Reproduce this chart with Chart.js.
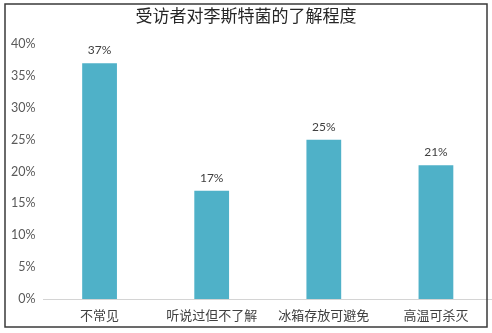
<!DOCTYPE html>
<html>
<head>
<meta charset="utf-8">
<script src="https://cdn.jsdelivr.net/npm/chart.js@4/dist/chart.umd.min.js"></script>
<style>
    html, body { margin: 0; padding: 0; background: #fff; }
    #wrap { width: 492px; height: 333px; position: relative; }
</style>
</head>
<body>
<div id="wrap"><canvas id="chart" width="492" height="333"></canvas></div>
<script>
const chartTitle = "受访者对李斯特菌的了解程度";
const categories = ["不常见", "听说过但不了解", "冰箱存放可避免", "高温可杀灭"];
const percentValues = [37, 17, 25, 21];
const yTicks = [0, 5, 10, 15, 20, 25, 30, 35, 40];

const barColor = "#4fb1c8";

// title, value labels and the outer frame
const decorations = {
    id: "decorations",
    afterDatasetsDraw(chart) {
        const ctx = chart.ctx;
        ctx.save();
        ctx.fillStyle = "#404040";
        ctx.font = "12px Lato";
        ctx.textAlign = "center";
        ctx.textBaseline = "middle";
        chart.getDatasetMeta(0).data.forEach((bar, i) => {
            ctx.fillText(percentValues[i] + "%", bar.x, bar.y - 13);
        });

        ctx.fillStyle = "#262626";
        ctx.font = "17px 'Noto Sans CJK SC'";
        ctx.fillText(chartTitle, 246, 16);

        ctx.strokeStyle = "#3a3a3a";
        ctx.lineWidth = 1.5;
        ctx.strokeRect(5, 4, 482, 323);
        ctx.restore();
    }
};

new Chart(document.getElementById("chart").getContext("2d"), {
    type: "bar",
    data: {
        labels: categories,
        datasets: [{
            data: percentValues,
            backgroundColor: barColor,
            barPercentage: 0.31,
            categoryPercentage: 1
        }]
    },
    options: {
        responsive: false,
        animation: false,
        layout: { padding: { top: 44, right: 0, left: 0, bottom: 0 } },
        plugins: {
            legend: { display: false },
            title: { display: false },
            tooltip: { enabled: false }
        },
        scales: {
            x: {
                grid: { display: false, drawTicks: false },
                border: { color: "#d4d4d4", width: 1 },
                ticks: {
                    color: "#404040",
                    font: { family: "'Noto Sans CJK SC'", size: 13 },
                    padding: 8,
                    maxRotation: 0
                },
                afterFit: scale => { scale.height = 34; }
            },
            y: {
                min: 0,
                max: 40,
                grid: { display: false, drawTicks: false },
                border: { display: false },
                afterBuildTicks: scale => { scale.ticks = yTicks.map(v => ({ value: v })); },
                ticks: {
                    color: "#595959",
                    font: { family: "Lato", size: 12.5 },
                    padding: 8,
                    callback: v => v + "%"
                },
                afterFit: scale => { scale.width = 43.5; }
            }
        }
    },
    plugins: [decorations]
});
</script>
</body>
</html>
